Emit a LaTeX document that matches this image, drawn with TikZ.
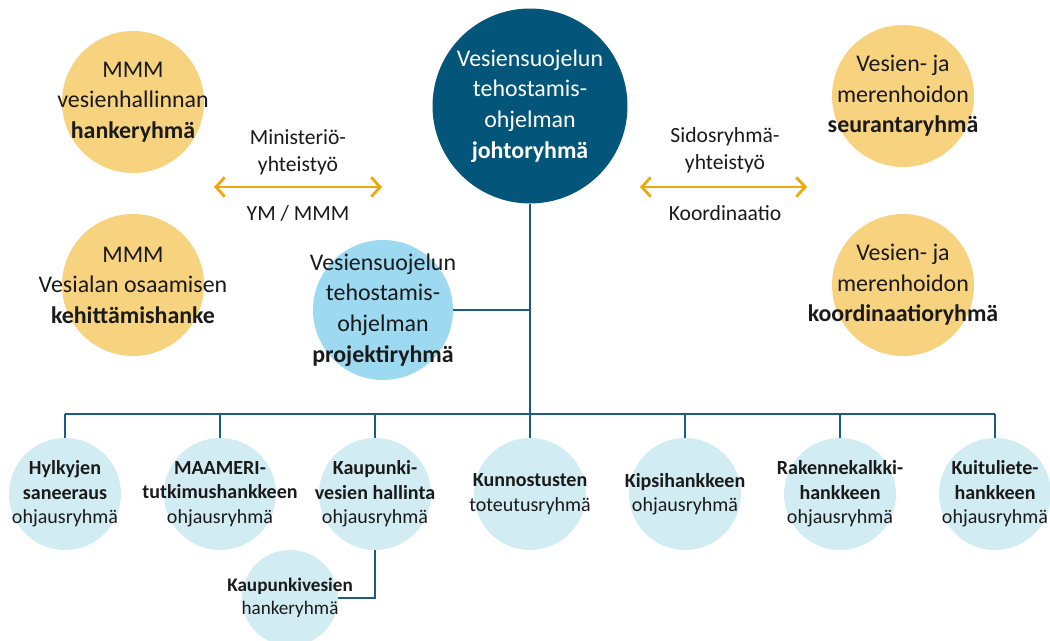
\documentclass[tikz,border=0pt]{standalone}
\usepackage{fontspec}
\setmainfont{Carlito}
\usepackage{xcolor}
\usepackage{tikz}
\usetikzlibrary{arrows.meta,positioning}

\definecolor{leadblue}{HTML}{03557A}
\definecolor{groupyellow}{HTML}{F7D37F}
\definecolor{projblue}{HTML}{9DD9F0}
\definecolor{paleblue}{HTML}{D2ECF3}
\definecolor{linkblue}{HTML}{1C5C84}
\definecolor{arroworange}{HTML}{EFA80C}
\definecolor{textdark}{HTML}{1A1A1A}

\begin{document}
\begin{tikzpicture}[
    x=0.02cm, y=-0.02cm,
    lead/.style={circle, fill=leadblue, minimum size=3.9cm, inner sep=0pt},
    yellowgrp/.style={circle, fill=groupyellow, minimum size=2.84cm, inner sep=0pt},
    projgrp/.style={circle, fill=projblue, minimum size=2.8cm, inner sep=0pt},
    subgrp/.style={circle, fill=paleblue, minimum size=2.24cm, inner sep=0pt},
    tinygrp/.style={circle, fill=paleblue, minimum size=1.92cm, inner sep=0pt},
    bigtxt/.style={align=center, inner sep=0pt, text=textdark, font=\fontsize{13.6}{17.4}\selectfont},
    notetxt/.style={align=center, inner sep=0pt, text=textdark, font=\fontsize{12.3}{15.3}\selectfont},
    smalltxt/.style={align=center, inner sep=0pt, text=textdark, font=\fontsize{11.4}{13.9}\selectfont},
    tinytxt/.style={align=center, inner sep=0pt, text=textdark, font=\fontsize{10.9}{13}\selectfont},
    link/.style={draw=linkblue, line width=1.5pt},
    coop/.style={{Straight Barb[length=5pt,width=11pt]}-{Straight Barb[length=5pt,width=11pt]}, draw=arroworange, line width=1.6pt}
]
\useasboundingbox (0,0) rectangle (1050,641);

\node[lead, label={[bigtxt, text=white]center:Vesiensuojelun\\tehostamis-\\ohjelman\\\textbf{johtoryhmä}}] (lead) at (530,106) {};

\node[yellowgrp, label={[bigtxt]center:MMM\\vesienhallinnan\\\textbf{hankeryhmä}}] (mmmhanke) at (133,102) {};
\node[yellowgrp, label={[bigtxt]center:MMM\\Vesialan osaamisen\\\textbf{kehittämishanke}}] (mmmkehitys) at (133,285) {};
\node[yellowgrp, label={[bigtxt]center:Vesien- ja\\merenhoidon\\\textbf{seurantaryhmä}}] (seuranta) at (903,96) {};
\node[yellowgrp, label={[bigtxt]center:Vesien- ja\\merenhoidon\\\textbf{koordinaatioryhmä}}] (koordinaatio) at (903,285) {};

\node[projgrp, label={[bigtxt]center:Vesiensuojelun\\tehostamis-\\ohjelman\\\textbf{projektiryhmä}}] (proj) at (383,310) {};

\node[notetxt] (ministerio) at (298,152) {Ministeriö-\\yhteistyö};
\node[notetxt] (ymmmm) at (298,213) {YM / MMM};
\node[notetxt] (sidosryhma) at (725,150) {Sidosryhmä-\\yhteistyö};
\node[notetxt] (koord) at (725,213) {Koordinaatio};
\coordinate (minleft) at (214,187);
\coordinate (minright) at (382,187);
\coordinate (sidleft) at (640,187);
\coordinate (sidright) at (807,187);
\draw[coop] (minleft) -- (minright);
\draw[coop] (sidleft) -- (sidright);

\node[subgrp, label={[smalltxt]center:\textbf{Hylkyjen}\\\textbf{saneeraus}\\ohjausryhmä}] (hylky) at (65,494) {};
\node[subgrp, label={[smalltxt]center:\textbf{MAAMERI-}\\\textbf{tutkimushankkeen}\\ohjausryhmä}] (maameri) at (220,494) {};
\node[subgrp, label={[smalltxt]center:\textbf{Kaupunki-}\\\textbf{vesien hallinta}\\ohjausryhmä}] (kaupunki) at (375,494) {};
\node[subgrp, label={[smalltxt]center:\textbf{Kunnostusten}\\toteutusryhmä}] (kunnostus) at (530,494) {};
\node[subgrp, label={[smalltxt]center:\textbf{Kipsihankkeen}\\ohjausryhmä}] (kipsi) at (685,494) {};
\node[subgrp, label={[smalltxt]center:\textbf{Rakennekalkki-}\\\textbf{hankkeen}\\ohjausryhmä}] (rakenne) at (840,494) {};
\node[subgrp, label={[smalltxt]center:\textbf{Kuituliete-}\\\textbf{hankkeen}\\ohjausryhmä}] (kuitu) at (995,494) {};

\node[tinygrp, label={[tinytxt]center:\textbf{Kaupunkivesien}\\hankeryhmä}] (kaupunkihanke) at (290,598) {};

\coordinate (bus) at (530,414);
\draw[link] (lead) -- (bus);
\draw[link] (proj) -- (proj -| lead);
\draw[link] (hylky |- bus) -- (kuitu |- bus);
\draw[link] (hylky) -- (hylky |- bus);
\draw[link] (maameri) -- (maameri |- bus);
\draw[link] (kaupunki) -- (kaupunki |- bus);
\draw[link] (kunnostus) -- (kunnostus |- bus);
\draw[link] (kipsi) -- (kipsi |- bus);
\draw[link] (rakenne) -- (rakenne |- bus);
\draw[link] (kuitu) -- (kuitu |- bus);
\draw[link] (kaupunki) |- (kaupunkihanke);

\end{tikzpicture}
\end{document}
